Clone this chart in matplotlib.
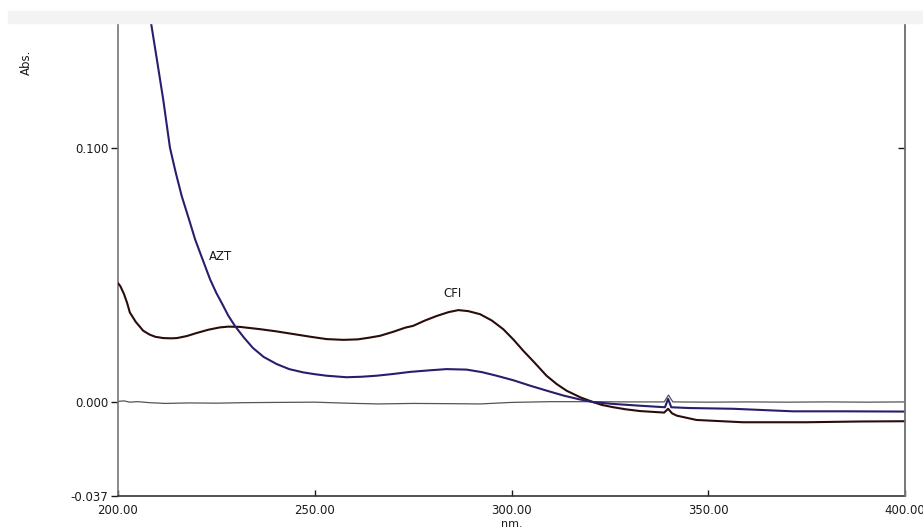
# UV absorbance spectra of AZT and CFI with the blank baseline
import matplotlib.pyplot as plt
from matplotlib.patches import Rectangle

plt.rcParams['font.family'] = ['DejaVu Sans']

# AZT spectrum (nm, Abs.)
azt_nm = [204.0, 206.5, 208.4, 210.0, 211.5, 213.2, 214.7, 216.2, 218.0, 219.6,
          221.5, 223.4, 225.0, 226.5, 228.0, 229.7, 232.0, 234.3, 237.0, 240.3,
          243.5, 247.1, 250.0, 253.0, 258.1, 262.0, 265.7, 270.0, 274.2, 279.0,
          283.5, 288.6, 292.5, 296.2, 300.5, 304.7, 309.0, 313.2, 317.0, 320.8,
          325.9, 332.7, 339.0, 339.8, 340.6, 345.0, 356.3, 371.5, 385.0, 399.9]
azt_abs = [0.185, 0.162, 0.149, 0.1335, 0.1188, 0.100, 0.090, 0.0809, 0.072, 0.0639,
           0.056, 0.0482, 0.0428, 0.0385, 0.0340, 0.0299, 0.0253, 0.0212, 0.0177, 0.0149,
           0.0129, 0.0116, 0.0109, 0.0103, 0.0097, 0.0099, 0.0103, 0.0110, 0.0118, 0.0124,
           0.0129, 0.0127, 0.0117, 0.0103, 0.0085, 0.0064, 0.0044, 0.0025, 0.0011, -0.0001,
           -0.0008, -0.0015, -0.0021, 0.0012, -0.0021, -0.0024, -0.0027, -0.0037, -0.0037, -0.0038]

# CFI spectrum (nm, Abs.)
cfi_nm = [200.1, 200.6, 201.5, 202.3, 203.0, 204.5, 206.4, 208.0, 209.5, 211.5,
          213.5, 215.0, 217.5, 220.0, 223.0, 225.9, 228.0, 231.0, 236.1, 240.0,
          244.5, 249.0, 253.0, 257.3, 261.0, 264.0, 266.6, 270.0, 273.0, 275.0,
          278.0, 281.0, 284.0, 286.5, 289.0, 292.0, 295.0, 297.9, 300.5, 303.0,
          306.0, 308.9, 311.5, 314.0, 317.5, 320.8, 323.0, 325.9, 329.0, 332.7,
          338.8, 339.8, 340.8, 342.0, 347.0, 358.8, 375.0, 388.6, 399.9]
cfi_abs = [0.0465, 0.0455, 0.0425, 0.0390, 0.0352, 0.0315, 0.0280, 0.0265, 0.0256, 0.0251,
           0.0250, 0.0251, 0.0259, 0.0271, 0.0284, 0.0293, 0.0296, 0.0295, 0.0286, 0.0278,
           0.0267, 0.0256, 0.0247, 0.0244, 0.0246, 0.0253, 0.0260, 0.0276, 0.0292, 0.0299,
           0.0320, 0.0338, 0.0353, 0.0361, 0.0357, 0.0345, 0.0320, 0.0286, 0.0245, 0.0201,
           0.0152, 0.0103, 0.0070, 0.0044, 0.0018, -0.0001, -0.0012, -0.0021, -0.0029, -0.0036,
           -0.0042, -0.0027, -0.0045, -0.0054, -0.0071, -0.0080, -0.0080, -0.0077, -0.0076]

# blank baseline (nm, Abs.)
base_nm = [200.0, 201.5, 203.0, 205.0, 208.0, 212.0, 218.0, 225.0, 232.0, 240.0,
           250.0, 258.0, 266.0, 275.0, 285.0, 292.0, 300.0, 310.0, 320.0, 330.0,
           338.8, 339.9, 341.0, 350.0, 360.0, 370.0, 380.0, 390.0, 399.9]
base_abs = [0.0002, 0.0004, -0.0001, 0.0001, -0.0003, -0.0006, -0.0004, -0.0005, -0.0003, -0.0002,
            -0.0001, -0.0005, -0.0008, -0.0006, -0.0007, -0.0008, -0.0002, 0.0001, 0.0001, 0.0000,
            0.0000, 0.0027, 0.0000, -0.0001, 0.0000, -0.0001, 0.0000, -0.0001, 0.0000]

y_ticks = [-0.037, 0.000, 0.100]
y_labels = ['-0.037', '0.000', '0.100']
x_ticks = [200, 250, 300, 350, 400]
x_labels = ['200.00', '250.00', '300.00', '350.00', '400.00']

fig = plt.figure(figsize=(9.23, 5.29), dpi=100)
fig.patches.append(Rectangle((8 / 923, 1 - 23 / 529), 1, 12 / 529,
                             transform=fig.transFigure, color='#f3f3f3', zorder=0))
ax = fig.add_axes([118 / 923, 33 / 529, 787 / 923, 473 / 529])

ax.plot(base_nm, base_abs, color='#555555', lw=0.9, zorder=2)
ax.plot(cfi_nm, cfi_abs, color='#2a0c0c', lw=1.5, zorder=3)
ax.plot(azt_nm, azt_abs, color='#2b1d6e', lw=1.5, zorder=4)

ax.text(223.2, 0.0571, 'AZT', fontsize=8.5, ha='left', va='center', color='#1a1a1a')
ax.text(285.1, 0.0428, 'CFI', fontsize=8.5, ha='center', va='center', color='#1a1a1a')

ax.set_xlim(200, 400)
ax.set_ylim(-0.037, 0.149)
ax.set_yticks(y_ticks)
ax.set_yticklabels(y_labels)
ax.set_xticks(x_ticks)
ax.set_xticklabels(x_labels)
ax.tick_params(axis='y', direction='out', length=5, width=1, labelsize=8.5, pad=2, colors='#1a1a1a')
ax.tick_params(axis='x', direction='in', length=4, width=1, labelsize=8.5, pad=6, colors='#1a1a1a')

# right side: a single inward tick at 0.100
ax2 = ax.twinx()
ax2.set_ylim(-0.037, 0.149)
ax2.set_yticks([0.100])
ax2.tick_params(axis='y', direction='in', length=5, width=1, labelright=False, colors='#1a1a1a')
for s in ['top', 'left', 'bottom']:
    ax2.spines[s].set_visible(False)
ax2.spines['right'].set_color('#777777')
ax2.spines['right'].set_linewidth(1.2)

ax.spines['top'].set_visible(False)
ax.spines['left'].set_color('#777777')
ax.spines['right'].set_color('#777777')
ax.spines['bottom'].set_color('#333333')
for s in ['left', 'right', 'bottom']:
    ax.spines[s].set_linewidth(1.2)

fig.text(26 / 923, 1 - 62 / 529, 'Abs.', rotation=90, fontsize=8.5, ha='center', va='center',
         color='#1a1a1a')
fig.text(512 / 923, 1 - 527 / 529, 'nm.', fontsize=8, ha='center', va='baseline', color='#1a1a1a')

fig.savefig('out.png', dpi=100)
